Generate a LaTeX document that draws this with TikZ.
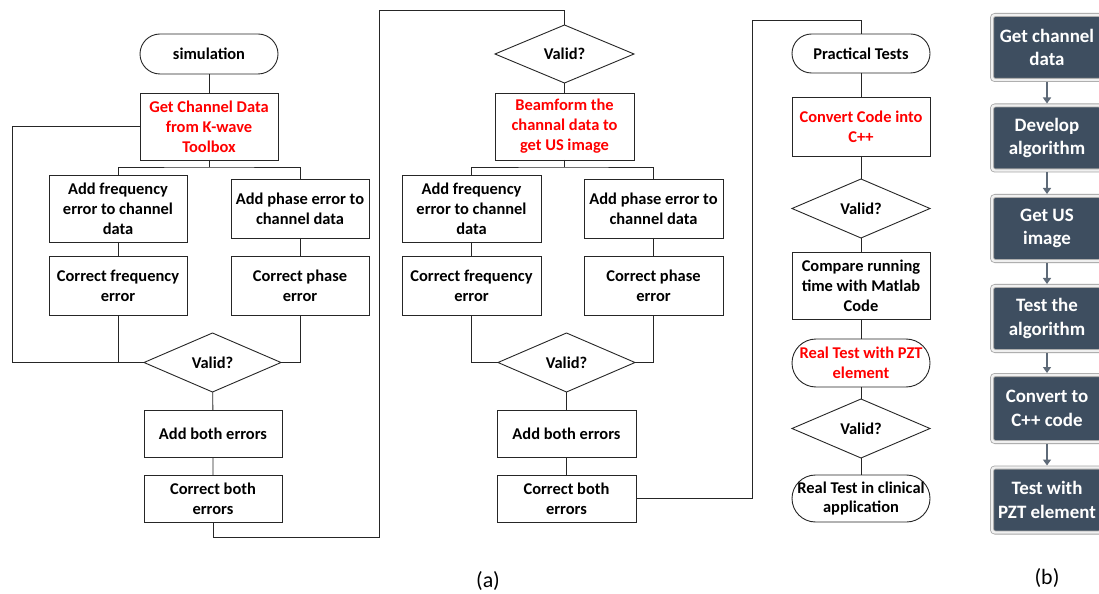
\documentclass[tikz,border=0pt]{standalone}
\usepackage{fontspec}
\setmainfont{Carlito}
\usetikzlibrary{shapes.geometric,arrows.meta}
\definecolor{dk}{HTML}{3E4E60}
\definecolor{ar}{HTML}{5E6A78}
\definecolor{ln}{HTML}{262626}
\begin{document}
\begin{tikzpicture}[x=1bp,y=-1bp,
  every node/.style={font=\fontsize{16.5}{20}\selectfont\bfseries, align=center, inner sep=0pt, outer sep=0pt},
  box/.style={draw=ln, line width=0.9bp, rectangle, minimum width=138bp},
  pill/.style={draw=ln, line width=0.9bp, rectangle, rounded corners=#1, minimum width=138bp},
  dia/.style={draw=ln, line width=0.9bp, diamond, minimum width=138bp, minimum height=59bp},
  redtxt/.style={text=red},
  conn/.style={draw=ln, line width=0.9bp},
  bbox/.style={fill=dk, draw=gray!70, double=gray!12, double distance=2.4bp, line width=0.8bp, rounded corners=3bp, minimum width=110bp, minimum height=65bp, text=white, font=\fontsize{19}{23.5}\selectfont\bfseries},
  barr/.style={draw=ar, line width=2.2bp, -{Triangle[width=8bp,length=6bp]}, shorten <=2bp, shorten >=2bp},
  lbl/.style={font=\fontsize{22}{26}\selectfont}
]
\clip (0,0) rectangle (1099,594);
\fill[white] (0,0) rectangle (1099,594);

% ---------- left column ----------
\node[pill=20bp, minimum height=40bp] (sim) at (209,54) {simulation};
\node[box, minimum height=67bp, redtxt] (gcd) at (209,126.5) {Get Channel Data\\from K-wave\\Toolbox};
\node[box, minimum height=67bp] (af1) at (118,208.5) {Add frequency\\error to channel\\data};
\node[box, minimum height=59bp] (ap1) at (300,208.5) {Add phase error to\\channel data};
\node[box, minimum height=59bp] (cf1) at (118,285.5) {Correct frequency\\error};
\node[box, minimum height=59bp] (cp1) at (300,285.5) {Correct phase\\error};
\node[dia, minimum width=137bp] (v1) at (212.5,362.5) {Valid?};
\node[box, minimum height=47bp] (ab1) at (213,433.5) {Add both errors};
\node[box, minimum height=47bp] (cb1) at (213,498.5) {Correct both\\errors};

% ---------- middle column ----------
\node[dia, minimum width=139bp, minimum height=58bp] (v2) at (564.5,54) {Valid?};
\node[box, minimum width=139bp, minimum height=67bp, redtxt] (bf) at (564.5,126.5) {Beamform the\\channal data to\\get US image};
\node[box, minimum width=139bp, minimum height=67bp] (af2) at (471.5,208.5) {Add frequency\\error to channel\\data};
\node[box, minimum width=139bp, minimum height=59bp] (ap2) at (653.5,208.5) {Add phase error to\\channel data};
\node[box, minimum width=139bp, minimum height=59bp] (cf2) at (471.5,285.5) {Correct frequency\\error};
\node[box, minimum width=139bp, minimum height=59bp] (cp2) at (653.5,285.5) {Correct phase\\error};
\node[dia, minimum width=137bp] (v3) at (566.5,362.5) {Valid?};
\node[box, minimum width=139bp, minimum height=47bp] (ab2) at (566.5,433.5) {Add both errors};
\node[box, minimum width=139bp, minimum height=47bp] (cb2) at (566.5,498.5) {Correct both\\errors};

% ---------- right column ----------
\node[pill=19.5bp, minimum height=39bp] (pt) at (861,53.5) {Practical Tests};
\node[box, minimum height=59bp, redtxt] (cc) at (861,126.5) {Convert Code into\\C++};
\node[dia] (v4) at (861,208.5) {Valid?};
\node[box, minimum height=67bp] (cr) at (861,285.5) {Compare running\\time with Matlab\\Code};
\node[pill=24bp, minimum height=48bp, redtxt] (pzt) at (861,363) {Real Test with PZT\\element};
\node[dia] (v5) at (861,428.5) {Valid?};
\node[pill=23.5bp, minimum height=47bp] (rc) at (861,498.5) {Real Test in clinical\\application};

% ---------- connectors (a) ----------
\coordinate (lp) at (12,362.5);
\coordinate (r1) at (379,537);
\coordinate (t1) at (379,10);
\coordinate (r2) at (752,20);

\draw[conn] (sim) -- (gcd);
\draw[conn] (gcd.south) -- ++(0,7) coordinate (j1);
\draw[conn] (af1.north) |- (j1) -| (ap1.north);
\draw[conn] (af1) -- (cf1);
\draw[conn] (ap1) -- (cp1);
\draw[conn] (gcd.west) -| (lp) -- (v1.west);
\draw[conn] (cf1.south) -- (cf1.south |- v1.west);
\draw[conn] (cp1.south) |- (v1.east);
\draw[conn] (v1) -- (ab1) -- (cb1);
\draw[conn] (cb1.south) |- (r1) -- (t1) -| (v2.north);

\draw[conn] (v2) -- (bf);
\draw[conn] (bf.south) -- ++(0,7) coordinate (j2);
\draw[conn] (af2.north) |- (j2) -| (ap2.north);
\draw[conn] (af2) -- (cf2);
\draw[conn] (ap2) -- (cp2);
\draw[conn] (cf2.south) |- (v3.west);
\draw[conn] (cp2.south) |- (v3.east);
\draw[conn] (v3) -- (ab2) -- (cb2);
\draw[conn] (cb2.east) -| (r2) -| (pt.north);

\draw[conn] (pt) -- (cc) -- (v4) -- (cr) -- (pzt) -- (v5) -- (rc);

% ---------- panel (b) ----------
\node[bbox] (b1) at (1047,47.5) {Get channel\\data};
\node[bbox] (b2) at (1047,138) {Develop\\algorithm};
\node[bbox] (b3) at (1047,228.5) {Get US\\image};
\node[bbox] (b4) at (1047,318.5) {Test the\\algorithm};
\node[bbox, minimum height=67bp] (b5) at (1047,408.5) {Convert to\\C++ code};
\node[bbox] (b6) at (1047,500) {Test with\\PZT element};
\draw[barr] (b1) -- (b2);
\draw[barr] (b2) -- (b3);
\draw[barr] (b3) -- (b4);
\draw[barr] (b4) -- (b5);
\draw[barr] (b5) -- (b6);

% ---------- labels ----------
\node[lbl] (la) at (488,581) {(a)};
\node[lbl] (lb) at (1047,578) {(b)};
\end{tikzpicture}
\end{document}
